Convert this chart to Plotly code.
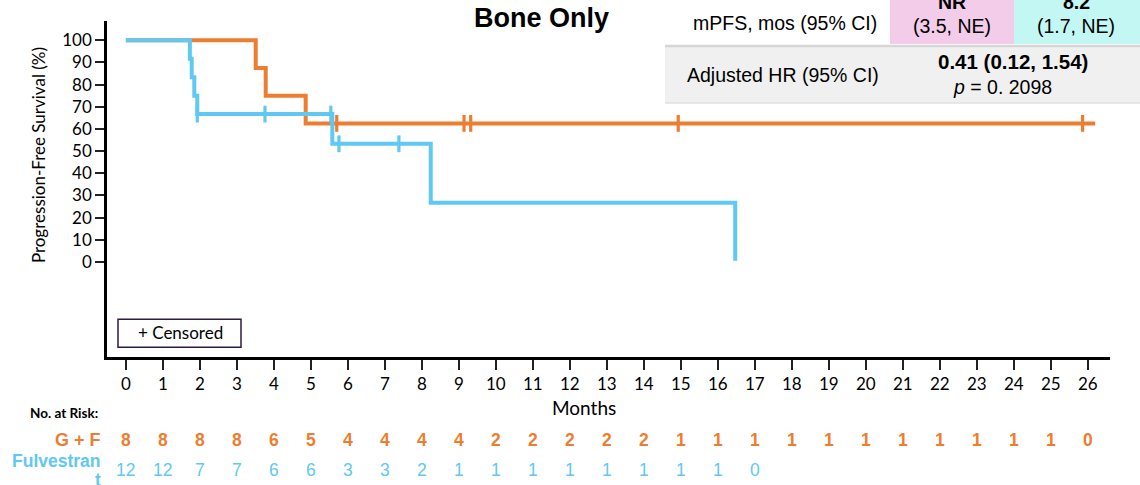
import plotly.graph_objects as go

# ---------------- data ----------------
gf_step_t = [0, 3.51, 3.78, 4.86, 26.2]
gf_step_s = [100, 87.5, 75.0, 62.5, 62.5]
gf_cens_t = [5.70, 9.14, 9.32, 14.93, 25.86]
gf_cens_s = [62.5, 62.5, 62.5, 62.5, 62.5]

fu_step_t = [0, 1.73, 1.78, 1.85, 1.93, 5.58, 8.24, 16.47]
fu_step_s = [100, 91.7, 83.3, 75.0, 66.7, 53.3, 26.7, 0.5]
fu_cens_t = [1.93, 3.76, 5.54, 5.76, 7.38]
fu_cens_s = [66.7, 66.7, 66.7, 53.3, 53.3]

months = list(range(0, 27))
gf_risk = [8, 8, 8, 8, 6, 5, 4, 4, 4, 4, 2, 2, 2, 2, 2, 1, 1, 1, 1, 1, 1, 1, 1, 1, 1, 1, 0]
fu_risk = [12, 12, 7, 7, 6, 6, 3, 3, 2, 1, 1, 1, 1, 1, 1, 1, 1, 0]

y_ticks = list(range(0, 101, 10))

ORANGE = "#ED7D31"
BLUE = "#5FC8F3"

# -------------- layout helpers (pixel -> paper) --------------
W, H = 1140, 485
L, R, T, B = 107, 1110, 21, 356.7


def px(x):
    return (x - L) / (R - L)


def py(y):
    return (B - y) / (B - T)


fig = go.Figure()

fig.add_trace(go.Scatter(x=gf_step_t, y=gf_step_s, mode="lines", line_shape="hv",
                         line=dict(color=ORANGE, width=4), hoverinfo="skip", showlegend=False))
fig.add_trace(go.Scatter(x=fu_step_t, y=fu_step_s, mode="lines", line_shape="hv",
                         line=dict(color=BLUE, width=4), hoverinfo="skip", showlegend=False))
fig.add_trace(go.Scatter(x=gf_cens_t, y=gf_cens_s, mode="markers",
                         marker=dict(symbol="line-ns", size=12, line=dict(color=ORANGE, width=3.2)),
                         showlegend=False))
fig.add_trace(go.Scatter(x=fu_cens_t, y=fu_cens_s, mode="markers",
                         marker=dict(symbol="line-ns", size=12, line=dict(color=BLUE, width=3.2)),
                         showlegend=False))

annotations = []
shapes = []

# Title
annotations.append(dict(text="<b>Bone Only</b>", x=px(541), y=py(18), xref="paper", yref="paper",
                        showarrow=False, font=dict(family="Liberation Sans", size=27, color="black"),
                        xanchor="center", yanchor="middle"))

# Y title
annotations.append(dict(text="Progression-Free Survival (%)", x=px(38), y=py(155), xref="paper", yref="paper",
                        showarrow=False, textangle=-90,
                        font=dict(family="Lato", size=17, color="black"),
                        xanchor="center", yanchor="middle"))

# X title
annotations.append(dict(text="Months", x=px(584), y=py(407), xref="paper", yref="paper",
                        showarrow=False, font=dict(family="Lato", size=19, color="black"),
                        xanchor="center", yanchor="middle"))

# Censored box
shapes.append(dict(type="rect", xref="paper", yref="paper", x0=px(118), x1=px(241), y0=py(347), y1=py(319),
                   line=dict(color="#2E1A47", width=1.5), fillcolor="white"))
annotations.append(dict(text="+ Censored", x=px(180), y=py(332), xref="paper", yref="paper",
                        showarrow=False, font=dict(family="Lato", size=17, color="black"),
                        xanchor="center", yanchor="middle"))

# Table cells (top-right)
shapes.append(dict(type="rect", xref="paper", yref="paper", x0=px(890), x1=px(1014), y0=py(44), y1=py(-5),
                   line=dict(width=0), fillcolor="#F2CCE8"))
shapes.append(dict(type="rect", xref="paper", yref="paper", x0=px(1014), x1=px(1145), y0=py(44), y1=py(-5),
                   line=dict(width=0), fillcolor="#C2F7F3"))
shapes.append(dict(type="rect", xref="paper", yref="paper", x0=px(665), x1=px(1145), y0=py(103), y1=py(46),
                   line=dict(width=0), fillcolor="#F0F0F0"))
shapes.append(dict(type="line", xref="paper", yref="paper", x0=px(665), x1=px(1145), y0=py(46), y1=py(46),
                   line=dict(color="#D6D6D6", width=2.5)))
shapes.append(dict(type="line", xref="paper", yref="paper", x0=px(665), x1=px(1145), y0=py(103), y1=py(103),
                   line=dict(color="#E0E0E0", width=1.5)))

TF = "Liberation Sans"
annotations.append(dict(text="mPFS, mos (95% CI)", x=px(879), y=py(23), xref="paper", yref="paper",
                        showarrow=False, font=dict(family=TF, size=19.5, color="black"),
                        xanchor="right", yanchor="middle"))
annotations.append(dict(text="<b>NR</b>", x=px(952), y=py(2), xref="paper", yref="paper",
                        showarrow=False, font=dict(family=TF, size=19.5, color="black"),
                        xanchor="center", yanchor="middle"))
annotations.append(dict(text="(3.5, NE)", x=px(952), y=py(26), xref="paper", yref="paper",
                        showarrow=False, font=dict(family=TF, size=19.5, color="black"),
                        xanchor="center", yanchor="middle"))
annotations.append(dict(text="<b>8.2</b>", x=px(1076), y=py(2), xref="paper", yref="paper",
                        showarrow=False, font=dict(family=TF, size=19.5, color="black"),
                        xanchor="center", yanchor="middle"))
annotations.append(dict(text="(1.7, NE)", x=px(1076), y=py(26), xref="paper", yref="paper",
                        showarrow=False, font=dict(family=TF, size=19.5, color="black"),
                        xanchor="center", yanchor="middle"))
annotations.append(dict(text="Adjusted HR (95% CI)", x=px(783), y=py(75), xref="paper", yref="paper",
                        showarrow=False, font=dict(family=TF, size=19.5, color="black"),
                        xanchor="center", yanchor="middle"))
annotations.append(dict(text="<b>0.41 (0.12, 1.54)</b>", x=px(1013), y=py(61), xref="paper", yref="paper",
                        showarrow=False, font=dict(family=TF, size=20.5, color="black"),
                        xanchor="center", yanchor="middle"))
annotations.append(dict(text="<i>p</i> = 0. 2098", x=px(1002), y=py(87), xref="paper", yref="paper",
                        showarrow=False, font=dict(family=TF, size=19.5, color="black"),
                        xanchor="center", yanchor="middle"))

# Number at risk
annotations.append(dict(text="<b>No. at Risk:</b>", x=px(100), y=py(413), xref="paper", yref="paper",
                        showarrow=False, font=dict(family="Lato", size=13.5, color="black"),
                        xanchor="right", yanchor="middle"))
annotations.append(dict(text="<b>G + F</b>", x=px(103), y=py(440), xref="paper", yref="paper",
                        showarrow=False, font=dict(family=TF, size=18, color=ORANGE),
                        xanchor="right", yanchor="middle"))
annotations.append(dict(text="<b>Fulvestran</b>", x=px(103), y=py(461), xref="paper", yref="paper",
                        showarrow=False, font=dict(family=TF, size=17.5, color=BLUE),
                        xanchor="right", yanchor="middle"))
annotations.append(dict(text="<b>t</b>", x=px(103), y=py(480), xref="paper", yref="paper",
                        showarrow=False, font=dict(family=TF, size=17.5, color=BLUE),
                        xanchor="right", yanchor="middle"))
for m, n in zip(months, gf_risk):
    annotations.append(dict(text=f"<b>{n}</b>", x=m, y=py(440), xref="x", yref="paper",
                            showarrow=False, font=dict(family=TF, size=17.5, color=ORANGE),
                            xanchor="center", yanchor="middle"))
for m, n in zip(months, fu_risk):
    annotations.append(dict(text=f"{n}", x=m, y=py(470), xref="x", yref="paper",
                            showarrow=False, font=dict(family=TF, size=17.5, color=BLUE),
                            xanchor="center", yanchor="middle"))

fig.update_layout(
    width=W, height=H,
    margin=dict(l=L, r=W - R, t=T, b=H - B, pad=0),
    paper_bgcolor="white", plot_bgcolor="white",
    showlegend=False,
    annotations=annotations,
    shapes=shapes,
    xaxis=dict(range=[-0.51, 26.6], tickmode="array", tickvals=months, ticktext=[str(m) for m in months],
               showline=True, linecolor="black", linewidth=2.5, ticks="outside", ticklen=10, tickwidth=2,
               tickcolor="#222", showgrid=False, zeroline=False,
               tickfont=dict(family="Lato", size=17, color="black")),
    yaxis=dict(range=[-42.9, 108.7], tickmode="array", tickvals=y_ticks, ticktext=[str(v) for v in y_ticks],
               showline=True, linecolor="black", linewidth=2.5, ticks="outside", ticklen=9, tickwidth=2,
               tickcolor="#222", showgrid=False, zeroline=False,
               tickfont=dict(family="Lato", size=17, color="black")),
)

fig.write_html("out.html", config={"displayModeBar": False},
               post_script="document.body.style.margin='0px';document.body.style.overflow='hidden';")
